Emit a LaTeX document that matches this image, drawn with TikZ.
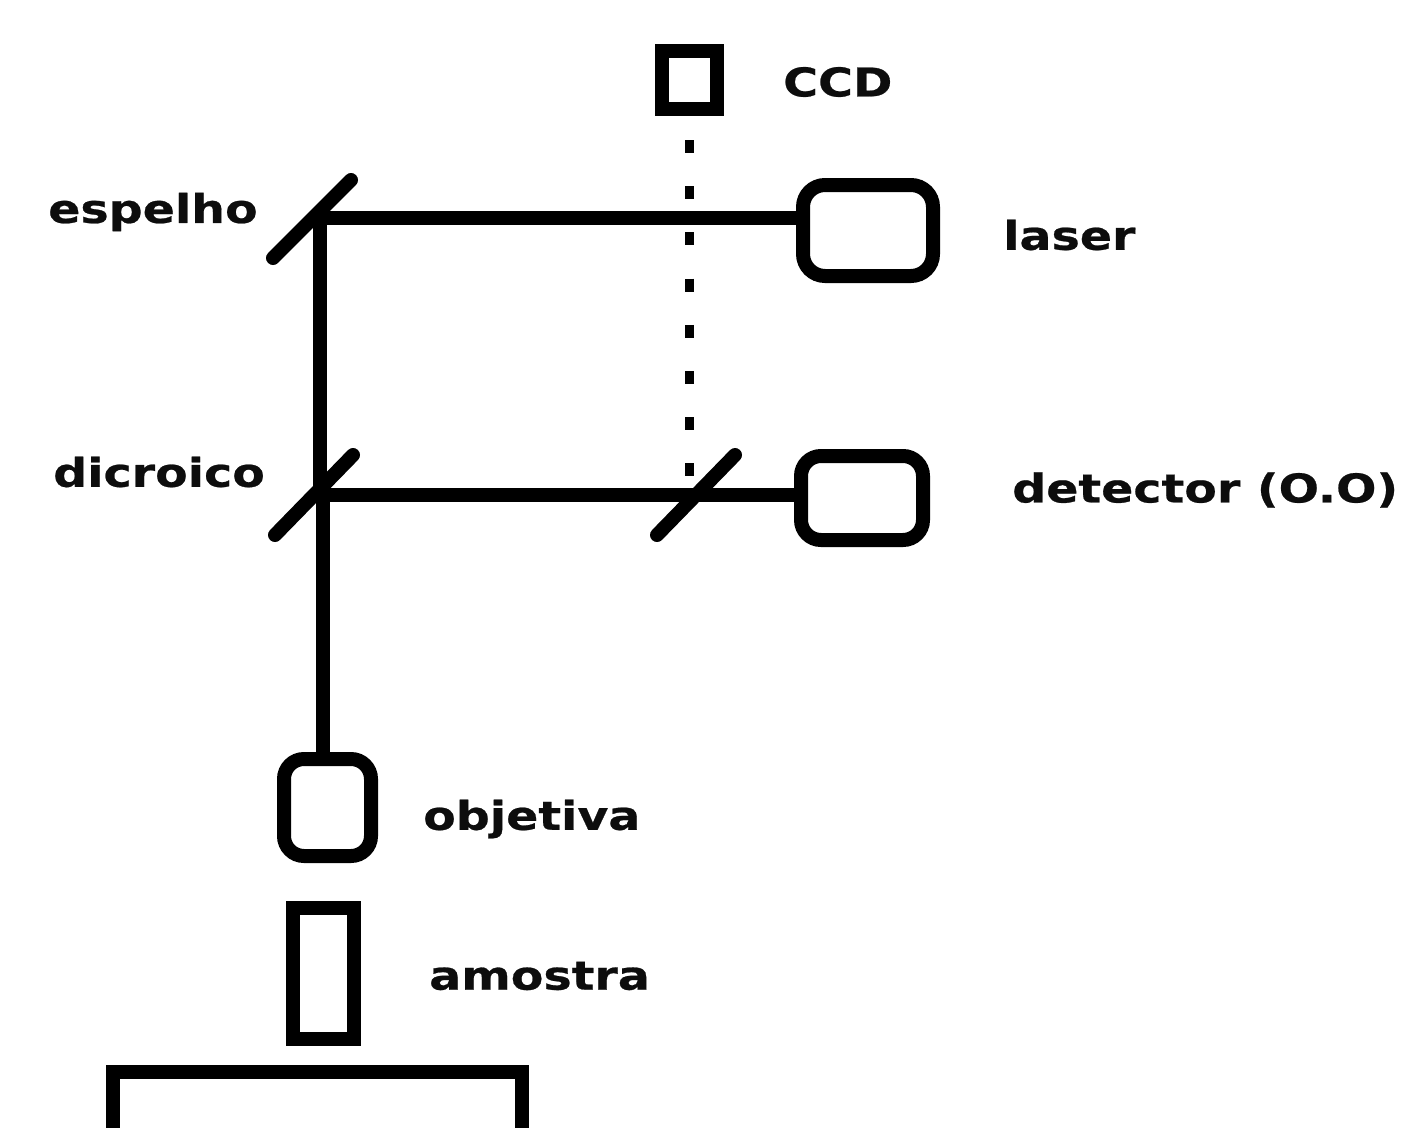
\documentclass[tikz,border=0pt]{standalone}
\usepackage{fontspec}
\setmainfont{DejaVu Sans}[BoldFeatures={FakeStretch=1.2,FakeBold=0.6}]
\begin{document}
\begin{tikzpicture}[x=1pt,y=-1pt,
  box/.style={draw=black,line width=14pt,rounded corners=22pt,inner sep=0pt},
  sqbox/.style={draw=black,line width=14pt,inner sep=0pt},
  lab/.style={font=\bfseries\fontsize{39.6}{44}\selectfont,inner sep=0pt,anchor=west,text=black!95},
  beam/.style={line width=14pt,draw=black},
  mirror/.style={line width=14pt,draw=black,line cap=round},
  dots/.style={line width=9pt,draw=black,dash pattern=on 13pt off 33.2pt}]
\useasboundingbox (0,0) rectangle (1402,1127);
\clip (0,0) rectangle (1402,1127);
\node[sqbox,minimum width=55pt,minimum height=58pt] (ccd) at (689.5,80) {};
\node[box,minimum width=130pt,minimum height=91pt] (laser) at (868,230.5) {};
\node[box,minimum width=122pt,minimum height=84pt,rounded corners=20pt] (detector) at (862,498) {};
\node[box,minimum width=87pt,minimum height=97pt,rounded corners=20pt] (objetiva) at (327.5,807.5) {};
\node[sqbox,minimum width=61pt,minimum height=131pt] (amostra) at (323.5,973.5) {};
\node[sqbox,minimum width=409pt,minimum height=200pt] (base) at (317.5,1172) {};
\coordinate (m1a) at (273,258);
\coordinate (m1b) at (351,180);
\coordinate (m2a) at (275,535);
\coordinate (m2b) at (353,455);
\coordinate (m3a) at (657,535);
\coordinate (m3b) at (735,455);
\coordinate (espelho) at (320,218);
\coordinate (dicroico) at (320,495);
\coordinate (vsplit) at (323,495);
\coordinate (objtop) at (323,753);
\coordinate (laserin) at (800,218);
\coordinate (detin) at (800,495);
\draw[mirror] (m1a) -- (m1b);
\draw[mirror] (m2a) -- (m2b);
\draw[mirror] (m3a) -- (m3b);
\draw[beam] (espelho) ++(-7,0) -- (laserin);
\draw[beam] (dicroico) -- (detin);
\draw[beam] (320,211) -- (dicroico);
\draw[beam] (vsplit) -- (objtop);
\coordinate (dotend) at (689.5,476);
\coordinate (dotstart) at (689.5,140);
\draw[dots] (dotstart) -- (dotend);
\node[lab] (t1) at (783,82) {CCD};
\node[lab] (t2) at (1003,235) {laser};
\node[lab] (t3) at (48,212) {espelho};
\node[lab] (t4) at (53,472) {dicroico};
\node[lab] (t5) at (1012,490) {detector (O.O)};
\node[lab] (t6) at (423,819) {objetiva};
\node[lab] (t7) at (429,976) {amostra};
\end{tikzpicture}
\end{document}
